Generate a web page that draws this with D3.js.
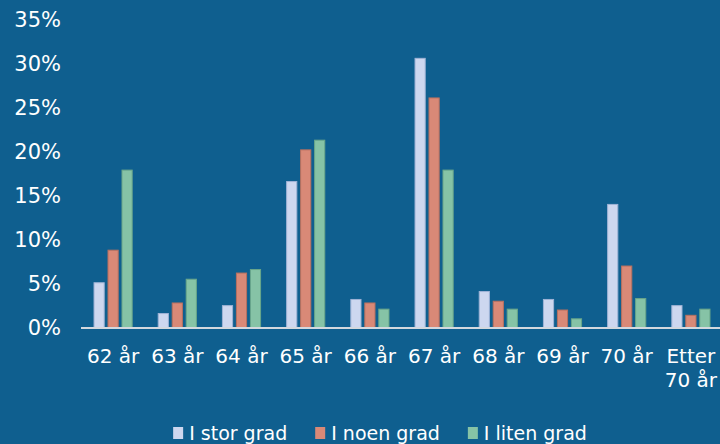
<!DOCTYPE html>
<html>
<head>
<meta charset="utf-8">
<script src="https://cdn.jsdelivr.net/npm/d3@7"></script>
<style>
  html, body { margin: 0; padding: 0; background: #0F5F8F; }
  svg { display: block; }
  text { font-family: "DejaVu Sans", sans-serif; fill: #FFFFFF; }
</style>
</head>
<body>
<svg id="chart" width="720" height="444"></svg>
<script>
// Age groups (a "\n" breaks a label over two lines)
const categories = ["62 år", "63 år", "64 år", "65 år", "66 år", "67 år", "68 år", "69 år", "70 år", "Etter\n70 år"];
const seriesNames = ["I stor grad", "I noen grad", "I liten grad"];
const seriesColors = ["#CDD7EF", "#D98977", "#86C3A6"];
const seriesStrokes = ["#9FB3D6", "#B8705F", "#6AA68A"];
// Share of respondents, percent
const storGrad  = [5.2, 1.7, 2.6, 16.7, 3.3, 30.7, 4.2, 3.3, 14.1, 2.6];
const noenGrad  = [8.9, 2.9, 6.3, 20.3, 2.9, 26.2, 3.1, 2.1, 7.1, 1.5];
const litenGrad = [18.0, 5.6, 6.7, 21.4, 2.2, 18.0, 2.2, 1.1, 3.4, 2.2];
const yTicks = [0, 5, 10, 15, 20, 25, 30, 35];

const seriesValues = [storGrad, noenGrad, litenGrad];
const svg = d3.select("#chart");

const x = d3.scaleBand().domain(categories).range([81, 723]).paddingInner(0.39).paddingOuter(0.195);
const xs = d3.scaleBand().domain(seriesNames).range([0, x.bandwidth()]).paddingInner(0.2);
const y = d3.scaleLinear().domain([0, 35]).range([328, 20]);

// Y axis labels
const yAxis = d3.axisLeft(y).tickValues(yTicks).tickSize(0).tickPadding(0).tickFormat(d => d + "%");
const yg = svg.append("g").attr("transform", "translate(61,0)").call(yAxis);
yg.select(".domain").remove();
yg.selectAll("text").attr("font-size", 21).attr("font-family", "DejaVu Sans").attr("fill", "#fff");

// Bars
const groups = svg.append("g").selectAll("g")
  .data(categories)
  .join("g")
  .attr("transform", d => `translate(${x(d)},0)`);

groups.selectAll("rect")
  .data((c, i) => seriesNames.map((s, k) => ({ s, k, v: seriesValues[k][i] })))
  .join("rect")
  .attr("x", d => xs(d.s) + 0.5)
  .attr("y", d => y(d.v) + 0.5)
  .attr("width", xs.bandwidth() - 1)
  .attr("height", d => Math.max(0, y(0) - y(d.v) - 0.5))
  .attr("fill", d => seriesColors[d.k])
  .attr("stroke", d => seriesStrokes[d.k])
  .attr("stroke-width", 1);

// Baseline
svg.append("line")
  .attr("x1", 81).attr("x2", 720)
  .attr("y1", y(0)).attr("y2", y(0))
  .attr("stroke", "#D3D8DE").attr("stroke-width", 2);

// X axis labels
const xAxis = d3.axisBottom(x).tickSize(0).tickPadding(0);
const xg = svg.append("g").attr("transform", "translate(0,363)").call(xAxis);
xg.select(".domain").remove();
xg.selectAll("text")
  .attr("font-size", 20).attr("font-family", "DejaVu Sans").attr("fill", "#fff")
  .attr("dy", null).attr("y", 0)
  .each(function (d) {
    const t = d3.select(this);
    t.text(null);
    d.split("\n").forEach((line, i) => {
      t.append("tspan").attr("x", 0).attr("y", i * 24).text(line);
    });
  });

// Legend
const legend = svg.append("g");
const items = legend.selectAll("g").data(seriesNames).join("g");
items.append("rect")
  .attr("width", 10).attr("height", 12)
  .attr("y", 427)
  .attr("fill", (d, i) => seriesColors[i]);
items.append("text")
  .attr("x", 16).attr("y", 440)
  .attr("font-size", 19)
  .text(d => d);
let cursor = 0;
const offsets = [];
items.each(function () {
  offsets.push(cursor);
  cursor += 16 + this.querySelector("text").getComputedTextLength() + 28;
});
const total = cursor - 28;
const start = 380 - total / 2;
items.attr("transform", (d, i) => `translate(${start + offsets[i]},0)`);
</script>
</body>
</html>
